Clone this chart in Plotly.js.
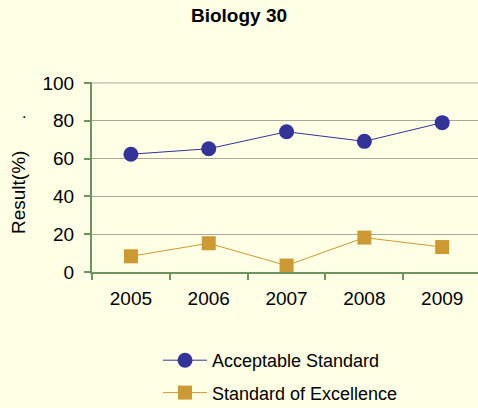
<!DOCTYPE html>
<html><head><meta charset="utf-8">
<script src="https://cdn.plot.ly/plotly-3.0.1.min.js"></script>
<style>html,body{margin:0;padding:0;background:#FFFFE5;}#chart{width:478px;height:408px;}</style>
</head><body><div id="chart"></div>
<script>
const years = ['2005','2006','2007','2008','2009'];
const acceptable = [62.3, 65.2, 74.2, 69.1, 79.0];
const excellence = [8.3, 15.2, 3.4, 18.2, 13.2];
const yTicks = [0, 20, 40, 60, 80, 100];

const font = 'Liberation Sans, Arial, sans-serif';
const axisGreen = '#6E9460';

const traces = [
  {x: years, y: acceptable, name: 'Acceptable Standard', type: 'scatter', mode: 'lines+markers',
   line: {color: '#333399', width: 1}, marker: {symbol: 'circle', size: 15, color: '#333399'},
   legendgroup: 'a', cliponaxis: false},
  {x: years, y: excellence, name: 'Standard of Excellence', type: 'scatter', mode: 'lines+markers',
   line: {color: '#CC9933', width: 1}, marker: {symbol: 'square', size: 14, color: '#CC9933'},
   legendgroup: 'b', cliponaxis: false}
];

const layout = {
  width: 478, height: 408,
  paper_bgcolor: '#FFFFE5', plot_bgcolor: '#FFFFE5',
  margin: {l: 92, r: 0, t: 82, b: 136},
  font: {family: font, size: 18, color: '#000'},
  title: {text: '<b>Biology 30</b>', font: {family: font, size: 19, color: '#000'},
          x: 0.5, xref: 'container', y: 0.962, yanchor: 'middle'},
  xaxis: {type: 'category', range: [-0.5, 4.46], tickson: 'boundaries',
          showline: true, linecolor: axisGreen, linewidth: 2,
          ticks: 'outside', ticklen: 6, tickcolor: axisGreen, tickwidth: 2,
          showgrid: false, zeroline: false, ticklabelstandoff: 8,
          tickfont: {family: font, size: 19}},
  yaxis: {range: [0, 100.5], tickvals: yTicks, ticktext: yTicks.map(String),
          showline: true, linecolor: axisGreen, linewidth: 2,
          ticks: 'outside', ticklen: 6, tickcolor: axisGreen, tickwidth: 2,
          showgrid: true, gridcolor: '#A8A8A0', gridwidth: 1, zeroline: false,
          ticklabelstandoff: 6, tickfont: {family: font, size: 19}},
  shapes: [
    {type: 'line', xref: 'paper', yref: 'y', x0: 0, x1: 1,
     y0: yTicks[yTicks.length - 1], y1: yTicks[yTicks.length - 1],
     line: {color: '#A8A8A0', width: 1}, layer: 'below'}
  ],
  showlegend: true,
  legend: {orientation: 'v', x: (158 - 92) / 386, xanchor: 'left', y: 1 - 342/408, yref: 'container', yanchor: 'top',
           itemwidth: 44,
           font: {family: font, size: 18}, tracegroupgap: 6, bgcolor: 'rgba(0,0,0,0)'},
  annotations: [
    {text: 'Result(%)', textangle: -90, xref: 'paper', yref: 'paper',
     x: (18 - 92) / 386, y: (272 - 193) / 190, xanchor: 'center', yanchor: 'middle',
     showarrow: false, font: {family: font, size: 19}},
    {text: '.', xref: 'paper', yref: 'paper',
     x: (24 - 92) / 386, y: (272 - 112) / 190, xanchor: 'center', yanchor: 'middle',
     showarrow: false, font: {family: font, size: 16}}
  ]
};

Plotly.newPlot('chart', traces, layout, {displayModeBar: false, staticPlot: true});
</script></body></html>
